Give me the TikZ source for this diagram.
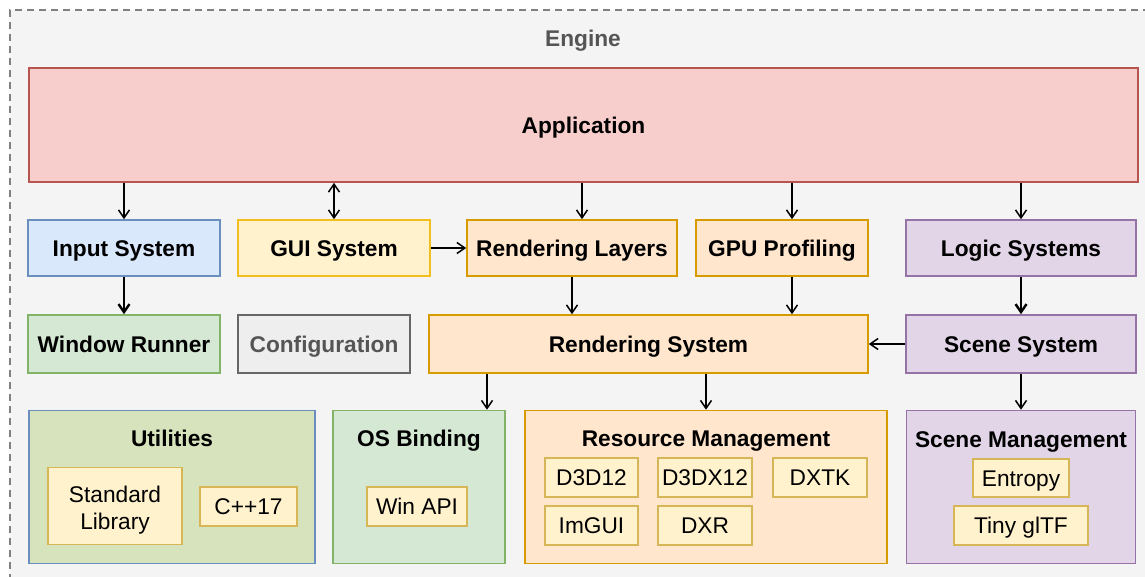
\documentclass[tikz,border=0pt]{standalone}
\usepackage{fontspec}
\setmainfont{Liberation Sans}
\usepackage{xcolor}
\usetikzlibrary{arrows.meta, positioning, calc}

\definecolor{enginebg}{HTML}{F4F4F4}
\definecolor{engineline}{HTML}{808080}
\definecolor{enginetext}{HTML}{555555}
\definecolor{redfill}{HTML}{F8CECC}
\definecolor{redline}{HTML}{B85450}
\definecolor{bluefill}{HTML}{DAE8FC}
\definecolor{blueline}{HTML}{6C8EBF}
\definecolor{yellowfill}{HTML}{FFF2CC}
\definecolor{yellowline}{HTML}{D6B656}
\definecolor{guiline}{HTML}{F2BE1E}
\definecolor{orangefill}{HTML}{FFE6CC}
\definecolor{orangeline}{HTML}{D79B00}
\definecolor{purplefill}{HTML}{E1D5E7}
\definecolor{purpleline}{HTML}{9673A6}
\definecolor{greenfill}{HTML}{D5E8D4}
\definecolor{greenline}{HTML}{82B366}
\definecolor{greyfill}{HTML}{EEEEEE}
\definecolor{greyline}{HTML}{666666}
\definecolor{olivefill}{HTML}{D7E3BC}

\begin{document}
\begin{tikzpicture}[x=1pt, y=-1pt,
  sysbox/.style={draw, line width=1.6pt, inner sep=0pt, text height=16pt, text depth=0pt, font=\fontsize{22.7}{27}\selectfont\bfseries},
  libbox/.style={draw=yellowline, fill=yellowfill, line width=1.6pt, inner sep=0pt, text height=16pt, text depth=0pt, align=center, font=\fontsize{22.7}{27}\selectfont},
  title/.style={text height=16pt, text depth=0pt, font=\fontsize{22.7}{27}\selectfont\bfseries},
  flow/.style={-{Straight Barb[length=8pt,width=11pt]}, line width=1.5pt},
  thickflow/.style={flow, line width=2.4pt}]
\useasboundingbox (0,0) rectangle (1145,576);

% Engine frame
\fill[enginebg] (10,10) rectangle (1150,580);
\draw[engineline, line width=1.4pt, dash pattern=on 7pt off 5pt] (1150,10) -- (10,10) -- (10,580);
\node[title, text=enginetext] (engine) at (583,38) {Engine};

% Application
\node[sysbox, fill=redfill, draw=redline, minimum width=1109, minimum height=114] (app) at (583.5,125) {Application};

% First row
\node[sysbox, fill=bluefill, draw=blueline, minimum width=192, minimum height=56] (input) at (124,248) {Input System};
\node[sysbox, fill=yellowfill, draw=guiline, minimum width=192, minimum height=56] (gui) at (334,248) {GUI System};
\node[sysbox, fill=orangefill, draw=orangeline, minimum width=210, minimum height=56] (rlayers) at (572,248) {Rendering Layers};
\node[sysbox, fill=orangefill, draw=orangeline, minimum width=172, minimum height=56] (gpu) at (782,248) {GPU Profiling};
\node[sysbox, fill=purplefill, draw=purpleline, minimum width=230, minimum height=56] (logic) at (1021,248) {Logic Systems};

% Second row
\node[sysbox, fill=greenfill, draw=greenline, minimum width=192, minimum height=58] (window) at (124,344) {Window Runner};
\node[sysbox, fill=greyfill, draw=greyline, text=enginetext, minimum width=172, minimum height=58] (config) at (324,344) {Configuration};
\node[sysbox, fill=orangefill, draw=orangeline, minimum width=439, minimum height=58] (rsys) at (648.5,344) {Rendering System};
\node[sysbox, fill=purplefill, draw=purpleline, minimum width=230, minimum height=58] (scene) at (1021,344) {Scene System};

% Third row: modules
\node[sysbox, fill=olivefill, draw=blueline, minimum width=286, minimum height=153] (util) at (172,487) {};
\node[title] (utiltitle) at (172,438) {Utilities};
\node[libbox, text height=, text depth=, minimum width=134, minimum height=77] (stdlib) at (115,506) {\rule{0pt}{24pt}Standard\\Library};
\node[libbox, minimum width=97, minimum height=39] (cpp) at (248.5,506.5) {C++17};

\node[sysbox, fill=greenfill, draw=greenline, minimum width=172, minimum height=153] (osb) at (419,487) {};
\node[title] (osbtitle) at (419,438) {OS Binding};
\node[libbox, minimum width=100, minimum height=39] (winapi) at (417,506.5) {Win API};

\node[sysbox, fill=orangefill, draw=orangeline, minimum width=362, minimum height=153] (res) at (706,487) {};
\node[title] (restitle) at (706,438) {Resource Management};
\node[libbox, minimum width=93, minimum height=39] (d3d) at (591.5,477.5) {D3D12};
\node[libbox, minimum width=94, minimum height=39] (d3dx) at (705,477.5) {D3DX12};
\node[libbox, minimum width=94, minimum height=39] (dxtk) at (820,477.5) {DXTK};
\node[libbox, minimum width=93, minimum height=39] (imgui) at (591.5,525.5) {ImGUI};
\node[libbox, minimum width=94, minimum height=39] (dxr) at (705,525.5) {DXR};

\node[sysbox, fill=purplefill, draw=purpleline, minimum width=229, minimum height=153] (smgmt) at (1021,487) {};
\node[title] (smgmttitle) at (1021,439) {Scene Management};
\node[libbox, minimum width=96, minimum height=38] (entropy) at (1021,478) {Entropy};
\node[libbox, minimum width=134, minimum height=39] (gltf) at (1021,525.5) {Tiny glTF};

% Application to first row
\draw[flow] (app.south -| input) -- (input);
\draw[{Straight Barb[length=8pt,width=11pt]}-{Straight Barb[length=8pt,width=11pt]}, line width=1.5pt] (app.south -| gui) -- (gui);
\draw[flow] ([xshift=10pt]rlayers.north |- app.south) -- ([xshift=10pt]rlayers.north);
\draw[flow] ([xshift=10pt]gpu.north |- app.south) -- ([xshift=10pt]gpu.north);
\draw[flow] (app.south -| logic) -- (logic);

% Between rows
\draw[flow] (gui) -- (rlayers);
\draw[thickflow] (input) -- (window);
\draw[flow] (rlayers) -- (rlayers |- rsys.north);
\draw[flow] ([xshift=10pt]gpu.south) -- ([xshift=10pt]gpu.south |- rsys.north);
\draw[thickflow] (logic) -- (scene);
\draw[flow] (scene) -- (rsys);

% Down to modules
\draw[flow] ([xshift=68pt]osb.north |- rsys.south) -- ([xshift=68pt]osb.north);
\draw[flow] (rsys.south -| res) -- (res);
\draw[flow] (scene.south -| smgmt) -- (smgmt);
\end{tikzpicture}
\end{document}
